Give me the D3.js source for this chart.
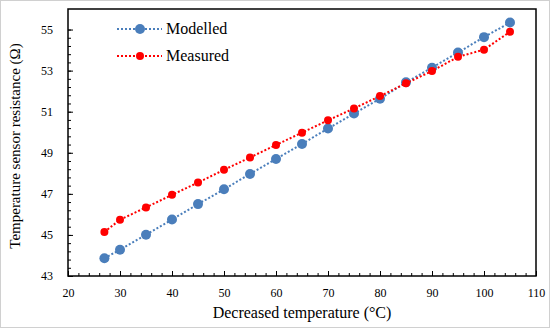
<!DOCTYPE html>
<html>
<head>
<meta charset="utf-8">
<script src="https://cdn.jsdelivr.net/npm/d3@7"></script>
<style>
  body { margin: 0; background: #fff; }
  text { font-family: "Liberation Serif", "Times New Roman", serif; fill: #000; }
</style>
</head>
<body>
<div id="chart"></div>
<script>
// data
var temps = [27, 30, 35, 40, 45, 50, 55, 60, 65, 70, 75, 80, 85, 90, 95, 100, 105];
var modelled = [43.86, 44.28, 45.01, 45.75, 46.50, 47.22, 47.97, 48.70, 49.43, 50.18, 50.91, 51.63, 52.43, 53.14, 53.88, 54.63, 55.34];
var measured = [45.14, 45.74, 46.34, 46.95, 47.55, 48.17, 48.77, 49.38, 49.98, 50.58, 51.16, 51.76, 52.38, 52.98, 53.67, 54.02, 54.89];
var xTicks = [20, 30, 40, 50, 60, 70, 80, 90, 100, 110];
var yTicks = [43, 45, 47, 49, 51, 53, 55];
var seriesNames = ["Modelled", "Measured"];

var width = 550, height = 328;
var margin = {top: 9, left: 68, bottom: 52, right: 14};

var svg = d3.select("#chart").append("svg")
    .attr("width", width).attr("height", height);

// light frame round the image
svg.append("rect").attr("x", 0.5).attr("y", 0.5)
    .attr("width", width - 1).attr("height", height - 1)
    .attr("fill", "none").attr("stroke", "#d0d0d0");

var x = d3.scaleLinear().domain([20, 110]).range([margin.left, width - margin.right]);
var y = d3.scaleLinear().domain([43, 56]).range([height - margin.bottom, margin.top]);

// minor ticks (inward)
var xMinor = d3.range(20, 110.01, 2);
var yMinor = d3.range(0, 31).map(function(i){ return +(43 + i * 0.4).toFixed(1); });

svg.append("g").attr("transform", "translate(0," + y(43) + ")")
    .call(d3.axisBottom(x).tickValues(xMinor).tickSize(-3).tickFormat(""))
    .call(function(g){ g.select(".domain").remove(); });
svg.append("g").attr("transform", "translate(" + x(20) + ",0)")
    .call(d3.axisLeft(y).tickValues(yMinor).tickSize(-3).tickFormat(""))
    .call(function(g){ g.select(".domain").remove(); });

// major ticks + labels
var xAxis = svg.append("g").attr("transform", "translate(0," + y(43) + ")")
    .call(d3.axisBottom(x).tickValues(xTicks).tickSizeInner(-5).tickSizeOuter(0).tickPadding(12))
    .attr("font-family", "Liberation Serif").attr("font-size", 12);
xAxis.select(".domain").remove();

var yAxis = svg.append("g").attr("transform", "translate(" + x(20) + ",0)")
    .call(d3.axisLeft(y).tickValues(yTicks).tickSizeInner(-5).tickSizeOuter(0).tickPadding(15))
    .attr("font-family", "Liberation Serif").attr("font-size", 12);
yAxis.select(".domain").remove();

// plot box
svg.append("rect")
    .attr("x", x(20)).attr("y", y(56))
    .attr("width", x(110) - x(20)).attr("height", y(43) - y(56))
    .attr("fill", "none").attr("stroke", "#000").attr("stroke-width", 1.5);

var colors = ["#4a7ebb", "#ff0000"];
var radii = [5, 4];
var allSeries = [modelled, measured];

var line = d3.line()
    .x(function(d){ return x(d[0]); })
    .y(function(d){ return y(d[1]); });

allSeries.forEach(function(vals, s){
    var pts = temps.map(function(t, i){ return [t, vals[i]]; });
    svg.append("path").datum(pts)
        .attr("d", line)
        .attr("fill", "none")
        .attr("stroke", colors[s])
        .attr("stroke-width", 2)
        .attr("stroke-dasharray", "2,2");
    svg.append("g").selectAll("circle").data(pts)
        .enter().append("circle")
        .attr("cx", function(d){ return x(d[0]); })
        .attr("cy", function(d){ return y(d[1]); })
        .attr("r", radii[s])
        .attr("fill", colors[s]);
});

// legend
var legend = svg.append("g");
seriesNames.forEach(function(name, s){
    var ly = 29 + s * 27;
    legend.append("line")
        .attr("x1", 117).attr("x2", 162).attr("y1", ly).attr("y2", ly)
        .attr("stroke", colors[s]).attr("stroke-width", 2).attr("stroke-dasharray", "2,2");
    legend.append("circle").attr("cx", 140).attr("cy", ly).attr("r", radii[s]).attr("fill", colors[s]);
    legend.append("text").attr("x", 166).attr("y", ly + 5)
        .style("font-size", "16px").text(name);
});

// axis titles
svg.append("text")
    .attr("x", (x(20) + x(110)) / 2).attr("y", 318)
    .attr("text-anchor", "middle")
    .style("font-size", "16px")
    .text("Decreased temperature (°C)");

svg.append("text")
    .attr("transform", "translate(20," + 146 + ") rotate(-90)")
    .attr("text-anchor", "middle")
    .style("font-size", "15px")
    .text("Temperature sensor resistance (Ω)");
</script>
</body>
</html>
